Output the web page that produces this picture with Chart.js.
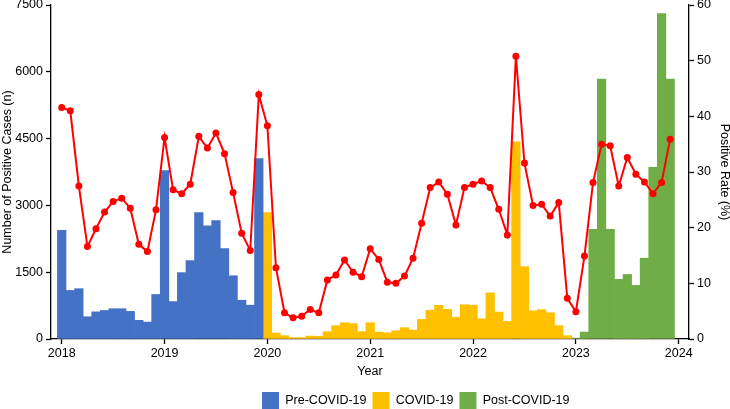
<!DOCTYPE html>
<html>
<head>
<meta charset="utf-8">
<script src="https://cdn.jsdelivr.net/npm/chart.js@4.4.0/dist/chart.umd.min.js"></script>
<style>
  html, body { margin: 0; padding: 0; background: #fff; }
  #wrap { position: relative; width: 730px; height: 409px; }
</style>
</head>
<body>
<div id="wrap"><canvas id="chart"></canvas></div>
<script>
// year tick labels, one per January (month index 0, 12, 24 ...)
const years = ['2018', '2019', '2020', '2021', '2022', '2023', '2024'];

// monthly positive cases per period
const preCovidCases = [2440, 1090, 1130, 500, 610, 640, 680, 680, 620, 420, 380, 1000,
                       3780, 840, 1490, 1760, 2840, 2540, 2660, 2030, 1420, 870, 760, 4050];
const covidCases = [2840, 135, 75, 30, 30, 65, 60, 165, 300, 365, 345, 165,
                    365, 155, 140, 185, 255, 200, 440, 645, 755, 665, 490, 770,
                    760, 455, 1035, 605, 395, 4425, 1625, 635, 660, 590, 300, 75];
const postCovidCases = [20, 155, 2460, 5835, 2460, 1340, 1450, 1205, 1815, 3855, 7310, 5835];

// monthly positive rate (%), Jan 2018 - Dec 2023
const positiveRate = [41.6, 41.0, 27.5, 16.6, 19.8, 22.8, 24.7, 25.3, 23.5, 17.0, 15.7, 23.2,
                      36.2, 26.8, 26.1, 27.8, 36.4, 34.3, 37.0, 33.3, 26.3, 19.0, 15.9, 43.9,
                      38.3, 12.8, 4.7, 3.8, 4.1, 5.3, 4.7, 10.6, 11.5, 14.2, 12.0, 11.2,
                      16.2, 14.3, 10.2, 10.0, 11.3, 14.5, 20.8, 27.2, 28.2, 26.0, 20.5, 27.2,
                      27.8, 28.4, 27.2, 23.3, 18.7, 50.8, 31.6, 24.0, 24.2, 22.1, 24.5, 7.3,
                      4.9, 14.9, 28.1, 35.0, 34.7, 27.5, 32.6, 29.6, 28.2, 26.1, 28.1, 35.9];

const toPoints = (arr, start) => arr.map((v, i) => ({x: start + i, y: v}));
const covidStart = preCovidCases.length;
const postStart = covidStart + covidCases.length;

const FONT = {family: "'Liberation Sans', Arial, sans-serif", size: 12.5};
const BLACK = '#000';

// move the legend row to where the original figure has it
const legendShift = {
  id: 'legendShift',
  afterLayout(chart) {
    const lg = chart.legend;
    if (!lg || !lg.lineWidths) return;
    const pad = lg.options.labels.padding;
    const startX = (lg.left + pad + lg.right - lg.lineWidths[0]) / 2;
    const dx = 262 - startX;
    const dy = 392 - (lg.top + pad);
    lg.left += dx; lg.right += dx;
    lg.top += dy; lg.bottom += dy;
  }
};

const axisGrid = {display: true, drawOnChartArea: false, drawTicks: true, tickLength: 5, color: BLACK, tickWidth: 1.3, offset: false};
const axisBorder = {display: true, color: BLACK, width: 1.3};

new Chart(document.getElementById('chart'), {
  type: 'bar',
  data: {
    datasets: [
      {
        type: 'line',
        label: 'Positive Rate',
        data: toPoints(positiveRate, 0),
        yAxisID: 'y1',
        borderColor: '#FF0000',
        backgroundColor: '#FF0000',
        borderWidth: 2,
        pointRadius: 3.5,
        pointBackgroundColor: '#FF0000',
        pointBorderWidth: 0,
        tension: 0,
        order: 0
      },
      {label: 'Pre-COVID-19', data: toPoints(preCovidCases, 0), backgroundColor: '#4472C4', yAxisID: 'y', order: 1},
      {label: 'COVID-19', data: toPoints(covidCases, covidStart), backgroundColor: '#FFC000', yAxisID: 'y', order: 1},
      {label: 'Post-COVID-19', data: toPoints(postCovidCases, postStart), backgroundColor: '#70AD47', yAxisID: 'y', order: 1}
    ]
  },
  options: {
    responsive: true,
    maintainAspectRatio: false,
    animation: false,
    layout: {padding: 0},
    datasets: {
      bar: {grouped: false, barPercentage: 1.0, categoryPercentage: 1.0, borderWidth: 0}
    },
    plugins: {
      tooltip: {enabled: false},
      legend: {
        position: 'bottom',
        labels: {
          boxWidth: 17,
          boxHeight: 17,
          padding: 6,
          color: BLACK,
          font: FONT,
          filter: (item) => item.datasetIndex > 0
        }
      }
    },
    scales: {
      x: {
        type: 'linear',
        offset: false,
        min: -1.25,
        max: 73.2,
        grid: axisGrid,
        border: axisBorder,
        afterBuildTicks: (s) => { s.ticks = years.map((y, i) => ({value: i * 12})); },
        afterFit: (s) => { s.height = 37; s.paddingLeft = 0; s.paddingRight = 0; },
        ticks: {
          autoSkip: false,
          maxRotation: 0,
          padding: 2,
          color: BLACK,
          font: FONT,
          callback: (v) => years[Math.round(v / 12)]
        },
        title: {display: true, text: 'Year', color: BLACK, font: FONT, padding: {top: 0, bottom: -3}}
      },
      y: {
        position: 'left',
        min: 0,
        max: 7500,
        grid: axisGrid,
        border: axisBorder,
        afterFit: (s) => { s.width = 51; s.paddingTop = 5; s.paddingBottom = 0; },
        ticks: {stepSize: 1500, padding: 3, color: BLACK, font: FONT, callback: (v) => String(v)},
        title: {display: true, text: 'Number of Positive Cases (n)', color: BLACK, font: FONT, padding: {top: 0, bottom: 0}}
      },
      y1: {
        position: 'right',
        min: 0,
        max: 60,
        grid: axisGrid,
        border: axisBorder,
        afterFit: (s) => { s.width = 41; s.paddingTop = 5; s.paddingBottom = 0; },
        ticks: {stepSize: 10, padding: 3, color: BLACK, font: FONT, callback: (v) => String(v)},
        title: {display: true, text: 'Positive Rate (%)', color: BLACK, font: FONT, padding: {top: -2, bottom: 0}}
      }
    }
  },
  plugins: [legendShift]
});
</script>
</body>
</html>
